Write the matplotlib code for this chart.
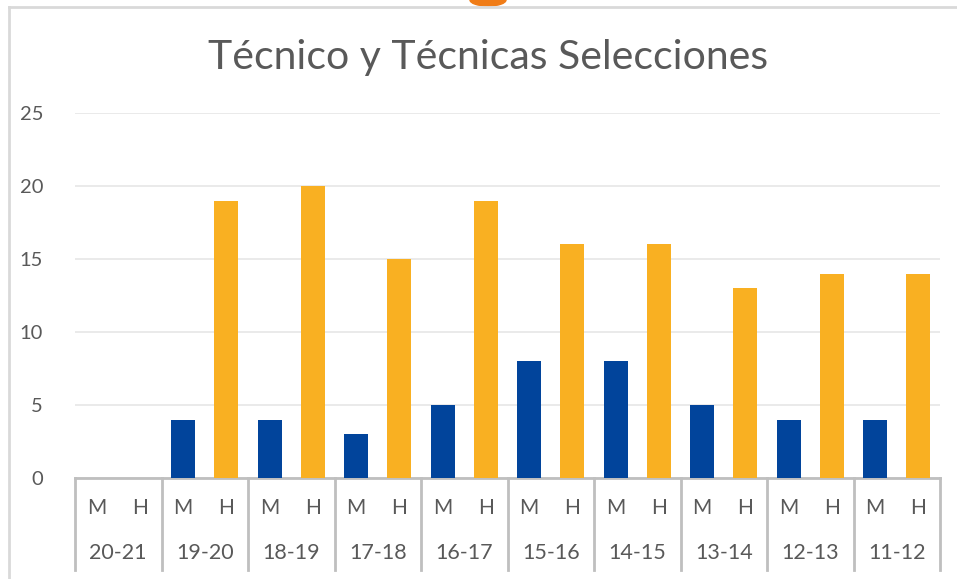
import matplotlib.pyplot as plt
import matplotlib.transforms as mtransforms
from matplotlib.patches import Ellipse
import numpy as np

seasons = ["20-21", "19-20", "18-19", "17-18", "16-17", "15-16", "14-15", "13-14", "12-13", "11-12"]
sub_labels = ["M", "H"]
m_values = [0, 4, 4, 3, 5, 8, 8, 5, 4, 4]
h_values = [0, 19, 20, 15, 19, 16, 16, 13, 14, 14]

blue = "#01449b"
orange = "#f9b022"
text_grey = "#595959"
line_grey = "#bfbfbf"

plt.rcParams['font.family'] = ['Lato', 'DejaVu Sans']

W, H = 957, 579
fig = plt.figure(figsize=(W / 100, H / 100), dpi=100)

# plot area in pixels
left_px, right_px, top_px, bottom_px = 75, 940, 113, 478
ax = fig.add_axes([left_px / W, 1 - bottom_px / H,
                   (right_px - left_px) / W, (bottom_px - top_px) / H])

n = len(seasons)
x = np.arange(n) * 2
bar_w = 0.555
ax.bar(x + 0.5, m_values, width=bar_w, color=blue, zorder=3)
ax.bar(x + 1.5, h_values, width=bar_w, color=orange, zorder=3)

ax.set_xlim(0, 2 * n)
ax.set_ylim(0, 25)
ax.set_yticks(np.arange(0, 26, 5))
ax.yaxis.grid(True, color="#e6e6e6", linewidth=1.2, zorder=0)
ax.set_axisbelow(True)
for s in ["top", "right", "left"]:
    ax.spines[s].set_visible(False)
ax.spines["bottom"].set_color(line_grey)
ax.spines["bottom"].set_linewidth(2)
ax.tick_params(axis="y", length=0, pad=23, labelsize=14.5, labelcolor=text_grey)
ax.tick_params(axis="x", length=0, labelbottom=False)

# multi-level category axis
trans = mtransforms.blended_transform_factory(ax.transData, ax.transAxes)
h_axes = bottom_px - top_px
sep_bottom = -(570 - bottom_px) / h_axes
for i in range(n + 1):
    ax.plot([2 * i, 2 * i], [0, sep_bottom], transform=trans, color=line_grey,
            linewidth=2, clip_on=False, zorder=4)
y_sub = -(508 - bottom_px) / h_axes
y_season = -(553 - bottom_px) / h_axes
for i, s in enumerate(seasons):
    for k, lab in enumerate(sub_labels):
        ax.text(2 * i + k + 0.5, y_sub, lab, transform=trans, ha="center", va="center",
                fontsize=15, color=text_grey)
    ax.text(2 * i + 1, y_season, s, transform=trans, ha="center", va="center",
            fontsize=15.5, color=text_grey)

# title
fig.text(488 / W, 1 - 57 / H, "Técnico y Técnicas Selecciones", ha="center", va="center",
         fontsize=29.5, color=text_grey)

# chart frame (cropped) and partial logo at top
fig.add_artist(plt.Line2D([9 / W, 1], [1 - 7 / H, 1 - 7 / H], color="#d9d9d9", linewidth=2))
fig.add_artist(plt.Line2D([9 / W, 9 / W], [0, 1 - 7 / H], color="#d9d9d9", linewidth=2))
fig.add_artist(Ellipse((488 / W, 1 - 0 / H), 36 / W, 12 / H, color="#f07c17",
                       transform=fig.transFigure))

fig.savefig("out.png", dpi=100)
